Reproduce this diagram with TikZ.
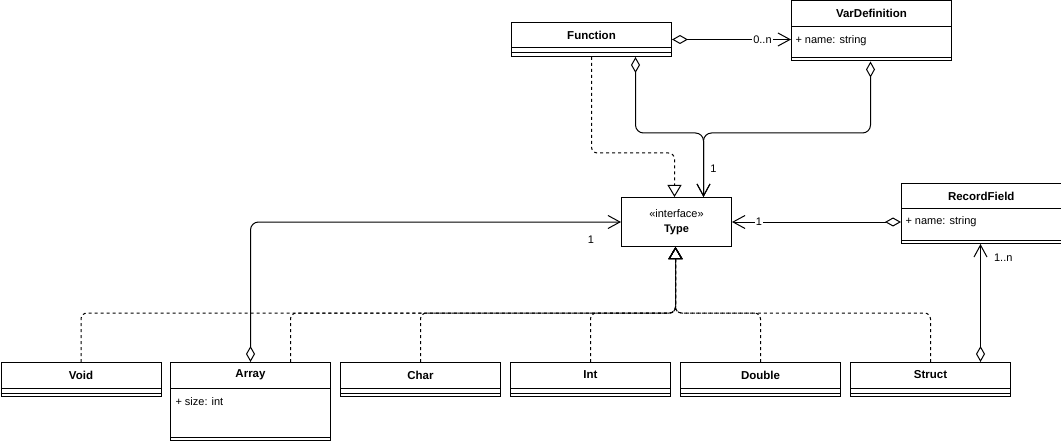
\documentclass[tikz,border=0pt]{standalone}
\usepackage{fontspec}
\setmainfont{Liberation Sans}
\usetikzlibrary{arrows.meta,calc}
\tikzset{
  clsbox/.style={draw, line width=1pt, inner sep=0pt, anchor=north west},
  clstitle/.style={font=\fontsize{11.5}{13}\selectfont\bfseries, inner sep=0pt},
  clsattr/.style={font=\fontsize{11}{13}\selectfont, inner sep=0pt, anchor=west},
  elabel/.style={font=\fontsize{11}{13}\selectfont, inner sep=1pt},
  agg/.style={line width=1pt, {Diamond[open,length=16pt,width=9pt]}-{Straight Barb[length=12pt,width=13pt]}},
  realize/.style={line width=1pt, dash pattern=on 3pt off 3pt, rounded corners=6pt, -{Triangle[open,length=12pt,width=14pt]}},
}
\newcommand\umlclass[6]{%
  \node[clsbox, minimum width=#4pt, minimum height=#5pt] (#1) at (#2,#3) {};
  \node[clstitle] (#1-t) at ($(#1.north)+(0,-13pt)$) {#6};
  \draw ($(#1.north west)+(0,-26pt)$) -- ($(#1.north east)+(0,-26pt)$);
  \draw ($(#1.south west)+(0,4pt)$) -- ($(#1.south east)+(0,4pt)$);
}
\begin{document}
\begin{tikzpicture}[x=1pt,y=-1pt,line width=1pt]
\useasboundingbox (0,0) rectangle (1061,441);
% classes
\umlclass{func}{511}{22}{160}{34}{Function}
\umlclass{vdef}{791}{0.5}{160}{60}{VarDefinition}
\node[clsattr] (vdef-a) at ($(vdef.north west)+(4pt,-40pt)$) {+ name: string};
\umlclass{rec}{901}{183}{159.5}{60}{RecordField}
\node[clsattr] (rec-a) at ($(rec.north west)+(4pt,-39pt)$) {+ name: string};
\node[draw, line width=1pt, minimum width=110pt, minimum height=49pt, inner sep=0pt, anchor=north west,
      align=center, font=\fontsize{11}{15}\selectfont] (typ) at (621,197) {«interface»\\\textbf{Type}};
\umlclass{cvoid}{0.5}{362}{160}{34}{Void}
\umlclass{carr}{170}{362}{160}{78}{Array}
\node[clsattr] (carr-a) at ($(carr.north west)+(5pt,-40pt)$) {+ size: int};
\umlclass{cchar}{340}{362}{160}{34}{Char}
\umlclass{cint}{510}{362}{160}{34}{Int}
\umlclass{cdbl}{680}{362}{160}{34}{Double}
\umlclass{cstr}{850}{362}{160}{34}{Struct}
% Function -> VarDefinition
\draw[agg] (func.east) -- node[elabel, fill=white, pos=0.76] {0..n} (func.east -| vdef.west);
% Function, VarDefinition -> Type
\draw[agg, rounded corners=8pt] ([xshift=44pt]func.south) |- ([xshift=27pt,yshift=64pt]typ.north) -- ([xshift=27pt]typ.north);
\draw[agg, rounded corners=8pt] ([xshift=-1pt]vdef.south) |- ([xshift=27pt,yshift=64pt]typ.north) -- ([xshift=27pt]typ.north);
\node[elabel] (l-top) at ($(typ.north)+(37pt,28pt)$) {1};
% Function realizes Type
\draw[realize] (func.south) |- ([xshift=-2pt,yshift=44pt]typ.north) -- ([xshift=-2pt]typ.north);
% Array -> Type
\draw[agg, rounded corners=8pt] (carr.north) |- (typ.west);
\node[elabel] (l-left) at ($(typ.west)+(-30pt,-18pt)$) {1};
% RecordField -> Type
\draw[agg] (typ.east -| rec.west) -- node[elabel, fill=white, pos=0.84] {1} (typ.east);
% Struct -> RecordField
\draw[agg] ([xshift=50pt]cstr.north) -- ([xshift=50pt]cstr.north |- rec.south);
\node[elabel] (l-rec) at ($(rec.south)+(22pt,-14pt)$) {1..n};
% generalizations
\foreach \s/\dx in {cvoid/0, carr/40, cchar/0, cint/0, cdbl/0, cstr/0}
  \draw[realize] ([xshift=\dx pt]\s.north) |- ([xshift=-1pt,yshift=-66pt]typ.south) -- ([xshift=-1pt]typ.south);
\end{tikzpicture}
\end{document}
